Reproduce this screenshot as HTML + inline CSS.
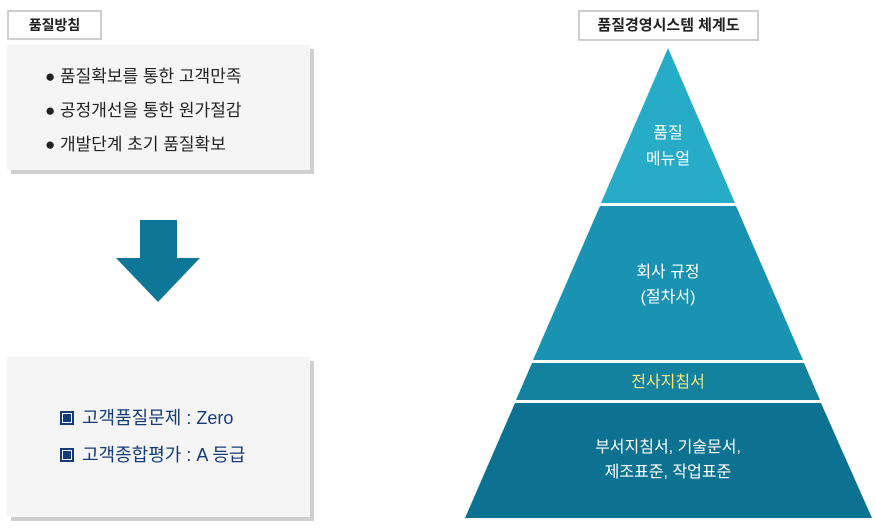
<!DOCTYPE html>
<html><head><meta charset="utf-8"><style>
body{margin:0;width:876px;height:530px;background:#fff;position:relative;font-family:"Liberation Sans","Noto Sans CJK KR",sans-serif;overflow:hidden}
.lbl{position:absolute;border:2px solid #cfcfcf;background:#fff;box-sizing:border-box;text-align:center;font-weight:bold;font-size:14px;color:#222}
.box{position:absolute;background:#f5f5f5;box-shadow:4px 4px 0 #d0d0d0}
.li{position:absolute;font-size:17px;color:#222}
.bl{position:absolute;font-size:18px;color:#143a78}
.sq{display:inline-block;width:10px;height:10px;border:2px solid #143a78;background:#143a78;box-shadow:inset 0 0 0 1px #fff;margin-right:8px;vertical-align:-1px}
</style></head><body>
<div class="lbl" style="left:7px;top:10px;width:95px;height:30px;line-height:26px">품질방침</div>
<div class="box" style="left:7px;top:45px;width:303px;height:125px"></div>
<div class="li" style="left:45px;top:62px">● 품질확보를 통한 고객만족</div>
<div class="li" style="left:45px;top:96px">● 공정개선을 통한 원가절감</div>
<div class="li" style="left:45px;top:130px">● 개발단계 초기 품질확보</div>
<svg style="position:absolute;left:0;top:0" width="876" height="530">
<polygon points="140,220 177,220 177,258 200,258 158,302 116,258 140,258" fill="#0e7697"/>
<polygon points="668,48 735,203 601,203" fill="#27acc8"/>
<polygon points="600,206 736,206 803,360 533,360" fill="#1a93b3"/>
<polygon points="532,363 804,363 820,400 516,400" fill="#14819f"/>
<polygon points="515,403 821,403 872,518 465,518" fill="#0d7292"/>
<g font-family="Liberation Sans, Noto Sans CJK KR, sans-serif" font-size="16" fill="#fff" text-anchor="middle">
<text x="668" y="138">품질</text><text x="668" y="164">메뉴얼</text>
<text x="668" y="277">회사 규정</text><text x="668" y="302">(절차서)</text>
<text x="668" y="387" fill="#f3e97a">전사지침서</text>
<text x="668" y="452">부서지침서, 기술문서,</text><text x="668" y="477">제조표준, 작업표준</text>
</g></svg>
<div class="box" style="left:7px;top:357px;width:303px;height:160px"></div>
<div class="bl" style="left:60px;top:404px"><span class="sq"></span>고객품질문제 : Zero</div>
<div class="bl" style="left:60px;top:441px"><span class="sq"></span>고객종합평가 : A 등급</div>
<div class="lbl" style="left:578px;top:10px;width:181px;height:31px;line-height:27px;font-size:15px">품질경영시스템 체계도</div>
</body></html>
